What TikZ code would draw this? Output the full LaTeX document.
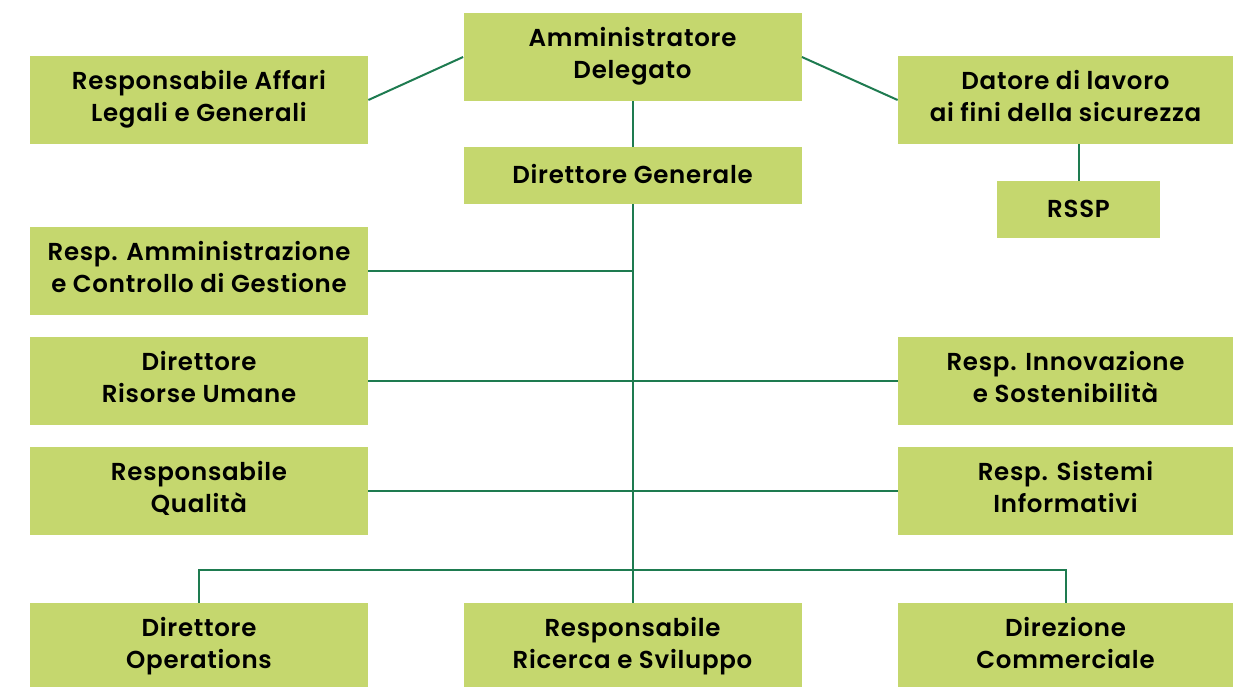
\documentclass[tikz,border=0pt]{standalone}
\usepackage{fontspec}
\setmainfont{Poppins}
\newfontfamily\orgfont{Poppins SemiBold}[LetterSpace=3]
\usepackage{tikz}
\definecolor{boxgreen}{HTML}{C5D76E}
\definecolor{linegreen}{HTML}{1E7B50}

\begin{document}
\begin{tikzpicture}
		[x=1pt, y=-1pt, thick, main/.style = {fill=boxgreen, inner sep=0pt, minimum height=88pt, minimum width=338pt, align=center, font=\orgfont\fontsize{24.5}{32}\selectfont, execute at begin node=\rule{0pt}{24.4pt}, execute at end node=\rule[-7.6pt]{0pt}{7.6pt}},
		small/.style = {main, minimum height=57pt},
		link/.style = {draw=linegreen, line width=2pt}]
	\useasboundingbox (0,0) rectangle (1233,687);
	\node[main] (ad) at (632.5,57) {Amministratore\\Delegato};
	\node[main] (affari) at (199,100) {Responsabile Affari\\Legali e Generali};
	\node[main, minimum width=335pt] (datore) at (1065.5,100) {Datore di lavoro\\ai fini della sicurezza};
	\node[small] (dg) at (632.5,175.5) {Direttore Generale};
	\node[small, minimum width=163pt] (rssp) at (1078.5,209.5) {RSSP};
	\node[main] (amm) at (199,270.5) {Resp. Amministrazione\\e Controllo di Gestione};
	\node[main] (ru) at (199,381) {Direttore\\Risorse Umane};
	\node[main, minimum width=335pt] (innov) at (1065.5,381) {Resp. Innovazione\\e Sostenibilità};
	\node[main] (qual) at (199,491) {Responsabile\\Qualità};
	\node[main, minimum width=335pt] (sist) at (1065.5,491) {Resp. Sistemi\\Informativi};
	\node[main] (ops) at (199,647) {Direttore\\Operations};
	\node[main] (rs) at (632.5,647) {Responsabile\\Ricerca e Sviluppo};
	\node[main, minimum width=335pt] (comm) at (1065.5,647) {Direzione\\Commerciale};
	% top
	\draw[link] (ad.west) -- (affari.east);
	\draw[link] (ad.east) -- (datore.west);
	\draw[link] (ad) -- (dg);
	\draw[link] (rssp.north |- datore.south) -- (rssp.north);
	% staff
	\draw[link] (dg.south) -- (rs.north);
	\draw[link] (amm.east) -- (amm.east -| dg.south);
	\draw[link] (ru.east) -- (innov.west);
	\draw[link] (qual.east) -- (sist.west);
	% bottom row
	\draw[link] (ops.north) -- ++(0,-33) -| (comm.north);
\end{tikzpicture}
\end{document}
